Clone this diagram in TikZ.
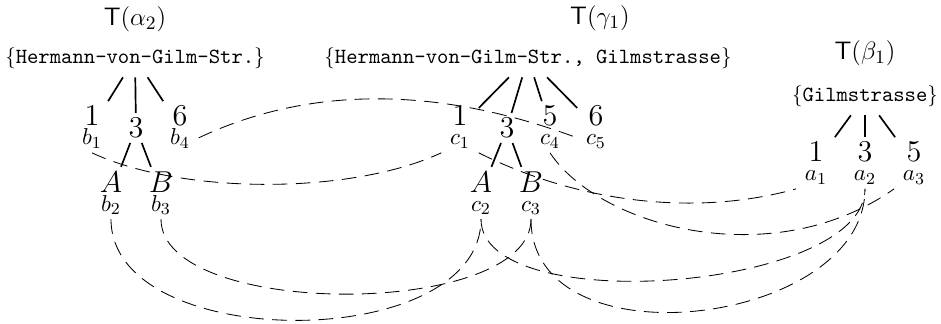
\documentclass[tikz,border=0pt]{standalone}
\usepackage{amsmath,amssymb}
\usepackage{tikz}
\usetikzlibrary{positioning}

\begin{document}
\begin{tikzpicture}[x=0.4762pt, y=-0.4762pt,
  ttl/.style={font=\fontsize{13}{15}\selectfont, inner sep=1pt},
  rootset/.style={font=\fontsize{10.3}{12}\selectfont, inner xsep=2pt, inner ysep=4pt},
  kid/.style={font=\Large, align=center, inner xsep=4pt, inner ysep=2pt},
  branch/.style={thick},
  link/.style={dash pattern=on 7pt off 4pt}]
\useasboundingbox (0,0) rectangle (941,323);
% tree of alpha_2
\node[ttl] (ta) at (135,19) {$\mathsf{T}(\alpha_2)$};
\node[rootset] (ra) at (135,58) {$\{$\texttt{Hermann-von-Gilm-Str.}$\}$};
\node[kid] (b1) at (92,127) {1\\[-9pt]{\fontsize{11}{13}\selectfont$b_1$}};
\node[kid] (ia) at (136,128) {3};
\node[kid] (b4) at (180,127) {6\\[-9pt]{\fontsize{11}{13}\selectfont$b_4$}};
\node[kid] (b2) at (111,193) {$A$\\[-9pt]{\fontsize{11}{13}\selectfont$b_2$}};
\node[kid] (b3) at (161,193) {$B$\\[-9pt]{\fontsize{11}{13}\selectfont$b_3$}};
\draw[branch] (ra) -- (b1);
\draw[branch] (ra) -- (ia);
\draw[branch] (ra) -- (b4);
\draw[branch] (ia) -- (b2);
\draw[branch] (ia) -- (b3);
% tree of gamma_1
\node[ttl] (tg) at (600,18) {$\mathsf{T}(\gamma_1)$};
\node[rootset] (rg) at (528,58) {$\{$\texttt{Hermann-von-Gilm-Str., Gilmstrasse}$\}$};
\node[kid] (c1) at (460,127) {1\\[-9pt]{\fontsize{11}{13}\selectfont$c_1$}};
\node[kid] (ig) at (507,128) {3};
\node[kid] (c4) at (550,127) {5\\[-9pt]{\fontsize{11}{13}\selectfont$c_4$}};
\node[kid] (c5) at (596,127) {6\\[-9pt]{\fontsize{11}{13}\selectfont$c_5$}};
\node[kid] (c2) at (481,193) {$A$\\[-9pt]{\fontsize{11}{13}\selectfont$c_2$}};
\node[kid] (c3) at (531,193) {$B$\\[-9pt]{\fontsize{11}{13}\selectfont$c_3$}};
\draw[branch] (rg) -- (c1);
\draw[branch] (rg) -- (ig);
\draw[branch] (rg) -- (c4);
\draw[branch] (rg) -- (c5);
\draw[branch] (ig) -- (c2);
\draw[branch] (ig) -- (c3);
% tree of beta_1
\node[ttl] (tb) at (865,53) {$\mathsf{T}(\beta_1)$};
\node[rootset] (rb) at (865,96) {$\{$\texttt{Gilmstrasse}$\}$};
\node[kid] (a1) at (816,163) {1\\[-9pt]{\fontsize{11}{13}\selectfont$a_1$}};
\node[kid] (a2) at (865,163) {3\\[-9pt]{\fontsize{11}{13}\selectfont$a_2$}};
\node[kid] (a3) at (914,163) {5\\[-9pt]{\fontsize{11}{13}\selectfont$a_3$}};
\draw[branch] (rb) -- (a1);
\draw[branch] (rb) -- (a2);
\draw[branch] (rb) -- (a3);
% links between the trees
\draw[link] (b1.south) .. controls +(90,42) and +(-90,42) .. (c1.south west);
\draw[link] (b4.-30) .. controls +(110,-52) and +(-140,-52) .. (c5.-150);
\draw[link] (c1.south east) .. controls +(100,50) and +(-100,28) .. (a1.south west);
\draw[link] (c4.south) .. controls +(50,75) and +(-120,85) .. (a3.south west);
\draw[link] (b2.south) .. controls +(0,135) and +(0,135) .. (c2.south);
\draw[link] (b3.south) .. controls +(0,100) and +(0,100) .. (c3.south);
\draw[link] (c2.south) .. controls +(0,100) and +(0,102) .. (a2.south);
\draw[link] (c3.south) .. controls +(0,148) and +(0,137) .. (a2.south);
\end{tikzpicture}
\end{document}
